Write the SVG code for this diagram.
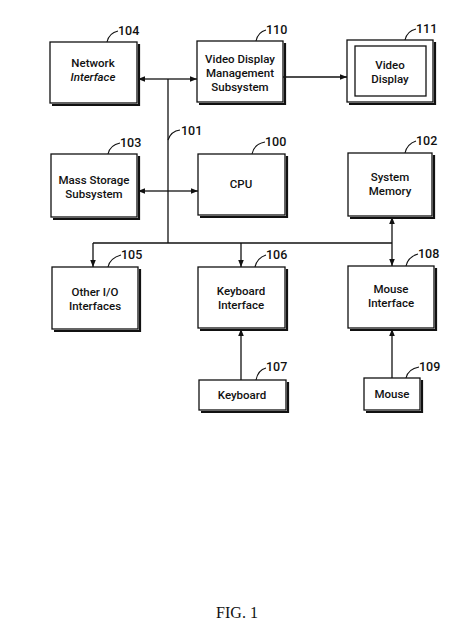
<svg xmlns="http://www.w3.org/2000/svg" width="474" height="634" viewBox="0 0 474 634">
<defs>
<marker id="ah" viewBox="0 0 10 10" refX="10" refY="5" markerWidth="7" markerHeight="7" orient="auto-start-reverse" markerUnits="userSpaceOnUse">
<path d="M0,1 L10,5 L0,9 Z" fill="#111"/>
</marker>
<style>
.box{fill:#fff;stroke:#111;stroke-width:1.3}
.sh{fill:none;stroke:#111;stroke-width:2.2}
.t{font-family:Roboto,"Liberation Sans",sans-serif;font-weight:500;font-size:11.5px;fill:#111;text-anchor:middle}
.n{font-family:Roboto,"Liberation Sans",sans-serif;font-weight:500;font-size:12.5px;fill:#111}
.ld{fill:none;stroke:#111;stroke-width:1.1}
.c{fill:none;stroke:#111;stroke-width:1.3}
</style>
</defs>
<rect width="474" height="634" fill="#fff"/>

<g id="connectors">
<line class="c" x1="168" y1="79" x2="168" y2="243"/>
<line class="c" x1="168" y1="79" x2="138" y2="79" marker-end="url(#ah)"/>
<line class="c" x1="168" y1="79" x2="197" y2="79" marker-end="url(#ah)"/>
<line class="c" x1="283" y1="77" x2="347" y2="77" marker-end="url(#ah)"/>
<line class="c" x1="168" y1="191" x2="138" y2="191" marker-end="url(#ah)"/>
<line class="c" x1="168" y1="191" x2="198" y2="191" marker-end="url(#ah)"/>
<line class="c" x1="93" y1="243" x2="392" y2="243"/>
<line class="c" x1="93" y1="243" x2="93" y2="267" marker-end="url(#ah)"/>
<line class="c" x1="241" y1="243" x2="241" y2="267" marker-end="url(#ah)"/>
<line class="c" x1="392" y1="217" x2="392" y2="266" marker-start="url(#ah)" marker-end="url(#ah)"/>
<line class="c" x1="241" y1="380" x2="241" y2="329" marker-end="url(#ah)"/>
<line class="c" x1="392" y1="378" x2="392" y2="329" marker-end="url(#ah)"/>
<path class="ld" d="M168,140 q3,-9 12,-10"/>
<text class="n" x="181" y="135">101</text>
</g>

<g id="n104">
<path class="sh" d="M139,44 V105 H52"/>
<rect class="box" x="50" y="42" width="87" height="61"/>
<text class="t" x="93" y="67">Network</text>
<text class="t" x="93" y="81" font-style="italic">Interface</text>
<path class="ld" d="M107,42 q2,-9 11,-11"/>
<text class="n" x="118" y="35">104</text>
</g>

<g id="n110">
<path class="sh" d="M285,43 V104 H199"/>
<rect class="box" x="197" y="41" width="86" height="61"/>
<text class="t" x="240" y="63">Video Display</text>
<text class="t" x="240" y="77">Management</text>
<text class="t" x="240" y="91">Subsystem</text>
<path class="ld" d="M256,41 q2,-9 10,-11"/>
<text class="n" x="266" y="34">110</text>
</g>

<g id="n111">
<path class="sh" d="M435,42 V104 H349"/>
<rect class="box" x="347" y="40" width="86" height="62"/>
<rect class="box" x="355" y="46" width="71" height="50"/>
<text class="t" x="390" y="69">Video</text>
<text class="t" x="390" y="83">Display</text>
<path class="ld" d="M405,40 q2,-9 11,-11"/>
<text class="n" x="416" y="33">111</text>
</g>

<g id="n103">
<path class="sh" d="M139,156 V219 H53"/>
<rect class="box" x="51" y="154" width="86" height="63"/>
<text class="t" x="94" y="184">Mass Storage</text>
<text class="t" x="94" y="198">Subsystem</text>
<path class="ld" d="M108,154 q2,-9 12,-11"/>
<text class="n" x="120" y="147">103</text>
</g>

<g id="n100">
<path class="sh" d="M287,156 V217 H200"/>
<rect class="box" x="198" y="154" width="87" height="61"/>
<text class="t" x="241" y="188">CPU</text>
<path class="ld" d="M252,154 q2,-10 13,-12"/>
<text class="n" x="265" y="146">100</text>
</g>

<g id="n102">
<path class="sh" d="M434,155 V218 H350"/>
<rect class="box" x="348" y="153" width="84" height="63"/>
<text class="t" x="390" y="181">System</text>
<text class="t" x="390" y="195">Memory</text>
<path class="ld" d="M405,153 q2,-9 11,-12"/>
<text class="n" x="416" y="145">102</text>
</g>

<g id="n105">
<path class="sh" d="M140,269 V331 H54"/>
<rect class="box" x="52" y="267" width="86" height="62"/>
<text class="t" x="95" y="296">Other I/O</text>
<text class="t" x="95" y="310">Interfaces</text>
<path class="ld" d="M108,267 q2,-9 13,-12"/>
<text class="n" x="121" y="259">105</text>
</g>

<g id="n106">
<path class="sh" d="M287,269 V330 H200"/>
<rect class="box" x="198" y="267" width="87" height="61"/>
<text class="t" x="241" y="295">Keyboard</text>
<text class="t" x="241" y="309">Interface</text>
<path class="ld" d="M255,267 q2,-9 11,-12"/>
<text class="n" x="266" y="259">106</text>
</g>

<g id="n107">
<path class="sh" d="M288,382 V412 H201"/>
<rect class="box" x="199" y="380" width="87" height="30"/>
<text class="t" x="242" y="399">Keyboard</text>
<path class="ld" d="M256,380 q2,-10 10,-12"/>
<text class="n" x="266" y="371">107</text>
</g>

<g id="n108">
<path class="sh" d="M436,268 V330 H350"/>
<rect class="box" x="348" y="266" width="86" height="62"/>
<text class="t" x="391" y="293">Mouse</text>
<text class="t" x="391" y="307">Interface</text>
<path class="ld" d="M406,266 q2,-9 12,-12"/>
<text class="n" x="418" y="258">108</text>
</g>

<g id="n109">
<path class="sh" d="M422,380 V412 H366"/>
<rect class="box" x="364" y="378" width="56" height="32"/>
<text class="t" x="392" y="398">Mouse</text>
<path class="ld" d="M406,378 q2,-9 13,-11"/>
<text class="n" x="419" y="371">109</text>
</g>

<text x="237" y="618" font-family="Liberation Serif,serif" font-size="16" text-anchor="middle" fill="#111">FIG. 1</text>
</svg>
